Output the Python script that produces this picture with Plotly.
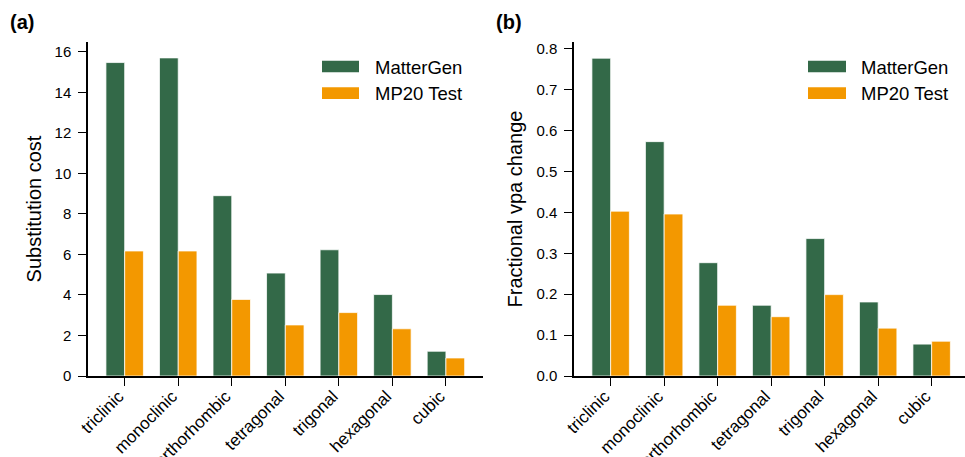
import plotly.graph_objects as go

categories = ["triclinic", "monoclinic", "orthorhombic", "tetragonal", "trigonal", "hexagonal", "cubic"]
series_names = ["MatterGen", "MP20 Test"]
subst_mattergen = [15.47, 15.70, 8.90, 5.08, 6.23, 4.02, 1.22]
subst_mp20 = [6.17, 6.17, 3.78, 2.52, 3.13, 2.33, 0.89]
vpa_mattergen = [0.777, 0.573, 0.277, 0.173, 0.336, 0.181, 0.078]
vpa_mp20 = [0.403, 0.396, 0.173, 0.145, 0.199, 0.117, 0.085]
ytitles = ["Substitution cost", "Fractional vpa change"]
panel_labels = ["(a)", "(b)"]

GREEN = "#336948"
ORANGE = "#f39800"
FONT = "Liberation Sans, Arial, sans-serif"

W, H = 965, 457
ML, MR, MT, MB = 88, 0, 42, 81
PW, PH = W - ML - MR, H - MT - MB


def px(x):
    return (x - ML) / PW


def py(y):
    return 1 - (y - MT) / PH


fig = go.Figure()
bar_line = dict(color="rgba(255,255,255,0.75)", width=1)
for vals, name, col in [(subst_mattergen, series_names[0], GREEN), (subst_mp20, series_names[1], ORANGE)]:
    fig.add_trace(go.Bar(x=categories, y=vals, name=name, marker=dict(color=col, line=bar_line),
                         xaxis="x", yaxis="y", showlegend=False))
for vals, name, col in [(vpa_mattergen, series_names[0], GREEN), (vpa_mp20, series_names[1], ORANGE)]:
    fig.add_trace(go.Bar(x=categories, y=vals, name=name, marker=dict(color=col, line=bar_line),
                         xaxis="x2", yaxis="y2", showlegend=False))

axis_common = dict(showline=True, linecolor="black", linewidth=1.5, ticks="outside", ticklen=8,
                   tickwidth=1.3, tickcolor="black", showgrid=False, zeroline=False, automargin=False)
yfont = dict(family=FONT, size=15, color="black")
xfont = dict(family=FONT, size=17, color="black")

fig.update_layout(
    width=W, height=H, margin=dict(l=ML, r=MR, t=MT, b=MB),
    paper_bgcolor="white", plot_bgcolor="white",
    barmode="group", bargap=0.3, bargroupgap=0,
    font=dict(family=FONT, color="black"),
    xaxis=dict(domain=[0, px(482.6)], range=[-0.685, 6.685], tickangle=-45, anchor="y",
               tickfont=xfont, ticklabelstandoff=-6, ticklabelshift=-6, **axis_common),
    xaxis2=dict(domain=[px(574), 1], range=[-0.685, 6.623], tickangle=-45, anchor="y2",
                tickfont=xfont, ticklabelstandoff=-6, ticklabelshift=-6, **axis_common),
    yaxis=dict(domain=[0, 1], range=[0, 16.485], dtick=2, tick0=0, anchor="x", tickfont=yfont,
               title=dict(text=ytitles[0], font=dict(size=20, family=FONT), standoff=8),
               ticklabelstandoff=4, **axis_common),
    yaxis2=dict(domain=[0, 1], range=[0, 0.8166], dtick=0.1, tick0=0, tickformat=".1f", anchor="x2",
                tickfont=yfont,
                title=dict(text=ytitles[1], font=dict(size=20, family=FONT), standoff=8),
                ticklabelstandoff=4, **axis_common),
)

# legends (drawn as patches + text to match the wide legend handles)
shapes = []
annotations = []
for x0, x1, tx in [(322, 359, 373), (808, 846, 859)]:
    for (y0, y1, ty), name, col in [((60.7, 72.3, 67), series_names[0], GREEN),
                                    ((87.3, 99.0, 93.5), series_names[1], ORANGE)]:
        shapes.append(dict(type="rect", xref="paper", yref="paper", x0=px(x0), x1=px(x1),
                           y0=py(y1), y1=py(y0), fillcolor=col, line=dict(width=0)))
        annotations.append(dict(text=name, xref="paper", yref="paper", x=px(tx), y=py(ty),
                                xanchor="left", yanchor="middle", showarrow=False,
                                font=dict(size=18.5, family=FONT, color="black")))

for lab, x in zip(panel_labels, [8, 494]):
    annotations.append(dict(text="<b>" + lab + "</b>", xref="paper", yref="paper", x=px(x), y=py(22.5),
                            xanchor="left", yanchor="middle", showarrow=False,
                            font=dict(size=20, family=FONT, color="black")))

fig.update_layout(shapes=shapes, annotations=annotations)
fig.write_html("out.html", config={"displayModeBar": False},
               post_script="document.body.style.margin='0';document.body.style.padding='0';"
                           "document.documentElement.style.overflow='hidden';")
